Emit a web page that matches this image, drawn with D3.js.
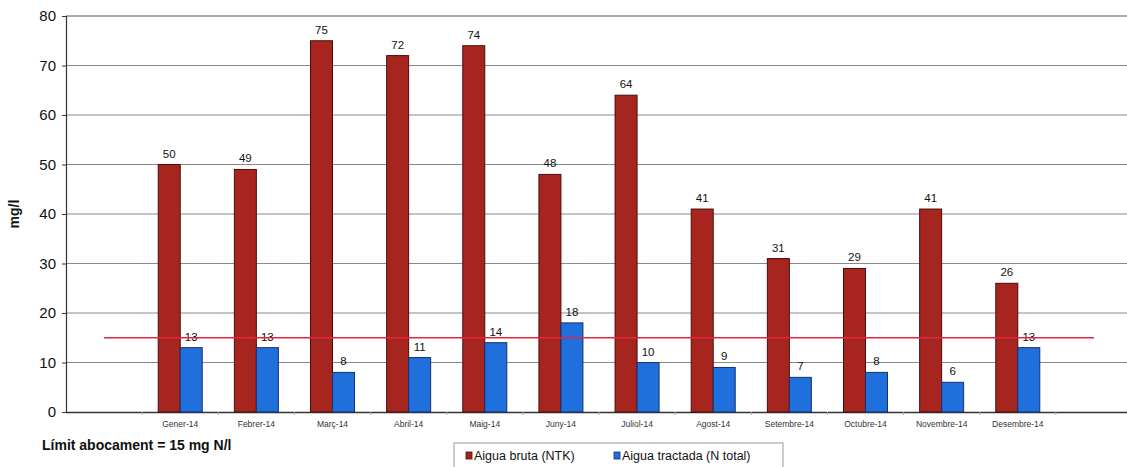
<!DOCTYPE html>
<html>
<head>
<meta charset="utf-8">
<script src="https://cdn.jsdelivr.net/npm/d3@7"></script>
<style>
  html, body { margin: 0; padding: 0; background: #fff; }
  svg { display: block; font-family: Arial, "Liberation Sans", sans-serif; }
</style>
</head>
<body>
<svg id="chart" width="1127" height="467"></svg>
<script>
// Monthly nitrogen concentrations, 2014
const months = ["Gener-14", "Febrer-14", "Març-14", "Abril-14", "Maig-14", "Juny-14",
                "Juliol-14", "Agost-14", "Setembre-14", "Octubre-14", "Novembre-14", "Desembre-14"];
const aiguaBruta = [50, 49, 75, 72, 74, 48, 64, 41, 31, 29, 41, 26];
const aiguaTractada = [13, 13, 8, 11, 14, 18, 10, 9, 7, 8, 6, 13];
const limit = 15;
const yTicks = [0, 10, 20, 30, 40, 50, 60, 70, 80];
const seriesNames = ["Aigua bruta (NTK)", "Aigua tractada (N total)"];

const svg = d3.select("#chart");
const margin = { left: 66, top: 16, bottom: 412 };
const plotRight = 1132;

// 14 slots: one empty slot on each side of the twelve months
const slots = ["_a", ...months, "_b"];
const x = d3.scaleBand().domain(slots).range([margin.left, plotRight]).paddingInner(0).paddingOuter(0);
const y = d3.scaleLinear().domain([0, 80]).range([margin.bottom, margin.top]);

const barW = 22;
const redFill = "#a6261f", redStroke = "#4a0c0a";
const blueFill = "#1f6fdc", blueStroke = "#1b2f6e";

// Gridlines
svg.append("g")
  .selectAll("line")
  .data(yTicks.filter(d => d > 0))
  .join("line")
  .attr("x1", margin.left).attr("x2", 1127)
  .attr("y1", d => y(d)).attr("y2", d => y(d))
  .attr("stroke", d => d === 80 ? "#555" : "#8a8a8a")
  .attr("stroke-width", 1);

// Y axis
const yAxis = svg.append("g")
  .attr("transform", `translate(${margin.left},0)`)
  .call(d3.axisLeft(y).tickValues(yTicks).tickSize(4).tickPadding(6));
yAxis.select(".domain").attr("stroke", "#333").attr("stroke-width", 1.2);
yAxis.selectAll(".tick line").attr("stroke", "#333");
yAxis.selectAll("text").attr("font-size", 15).attr("fill", "#111");

// X axis
const xAxis = svg.append("g")
  .attr("transform", `translate(0,${margin.bottom})`)
  .call(d3.axisBottom(x).tickValues(months).tickSize(0).tickPadding(9));
xAxis.select(".domain").attr("stroke", "#333").attr("stroke-width", 1.5)
  .attr("d", `M${margin.left},0.5H1127`);
xAxis.selectAll("text").attr("font-size", 8.5).attr("fill", "#333");
// small boundary ticks between categories
svg.append("g")
  .selectAll("line")
  .data(slots.slice(1))
  .join("line")
  .attr("x1", d => x(d)).attr("x2", d => x(d))
  .attr("y1", margin.bottom).attr("y2", margin.bottom + 3)
  .attr("stroke", "#aaa");

// Axis title
svg.append("text")
  .attr("transform", `translate(19,${(margin.top + margin.bottom) / 2}) rotate(-90)`)
  .attr("text-anchor", "middle")
  .attr("font-size", 14).attr("font-weight", "bold").attr("fill", "#111")
  .text("mg/l");

// Bars
const groups = svg.append("g").selectAll("g")
  .data(months.map((m, i) => ({ m, bruta: aiguaBruta[i], tractada: aiguaTractada[i] })))
  .join("g")
  .attr("transform", d => `translate(${x(d.m) + x.bandwidth() / 2},0)`);

groups.append("rect")
  .attr("x", -barW).attr("width", barW)
  .attr("y", d => y(d.bruta)).attr("height", d => y(0) - y(d.bruta))
  .attr("fill", redFill).attr("stroke", redStroke).attr("stroke-width", 1);

groups.append("rect")
  .attr("x", 0).attr("width", barW)
  .attr("y", d => y(d.tractada)).attr("height", d => y(0) - y(d.tractada))
  .attr("fill", blueFill).attr("stroke", blueStroke).attr("stroke-width", 1);

// Limit line
svg.append("line")
  .attr("x1", x("_a") + x.bandwidth() / 2).attr("x2", x("_b") + x.bandwidth() / 2)
  .attr("y1", y(limit)).attr("y2", y(limit))
  .attr("stroke", "#e3263f").attr("stroke-width", 1.4);

// Value labels
groups.append("text")
  .attr("x", -barW / 2).attr("y", d => y(d.bruta) - 7)
  .attr("text-anchor", "middle").attr("font-size", 11.5).attr("fill", "#111")
  .text(d => d.bruta);
groups.append("text")
  .attr("x", barW / 2).attr("y", d => y(d.tractada) - 7)
  .attr("text-anchor", "middle").attr("font-size", 11.5).attr("fill", "#111")
  .text(d => d.tractada);

// Limit note
svg.append("text")
  .attr("x", 42).attr("y", 450)
  .attr("font-size", 14).attr("font-weight", "bold").attr("fill", "#111")
  .text("Límit abocament = " + limit + " mg N/l");

// Legend
const legend = svg.append("g").attr("transform", "translate(454,443)");
legend.append("rect")
  .attr("x", 0).attr("y", 0).attr("width", 329).attr("height", 30)
  .attr("fill", "#fff").attr("stroke", "#999");
const legendItems = [
  { name: seriesNames[0], fill: redFill, stroke: redStroke, x: 12 },
  { name: seriesNames[1], fill: blueFill, stroke: blueStroke, x: 160 }
];
const li = legend.selectAll("g.item").data(legendItems).join("g")
  .attr("class", "item")
  .attr("transform", d => `translate(${d.x},0)`);
li.append("rect")
  .attr("x", 0).attr("y", 9).attr("width", 6).attr("height", 7)
  .attr("fill", d => d.fill).attr("stroke", d => d.stroke).attr("stroke-width", 0.8);
li.append("text")
  .attr("x", 8).attr("y", 17)
  .attr("font-size", 12.5).attr("fill", "#111")
  .text(d => d.name);
</script>
</body>
</html>
